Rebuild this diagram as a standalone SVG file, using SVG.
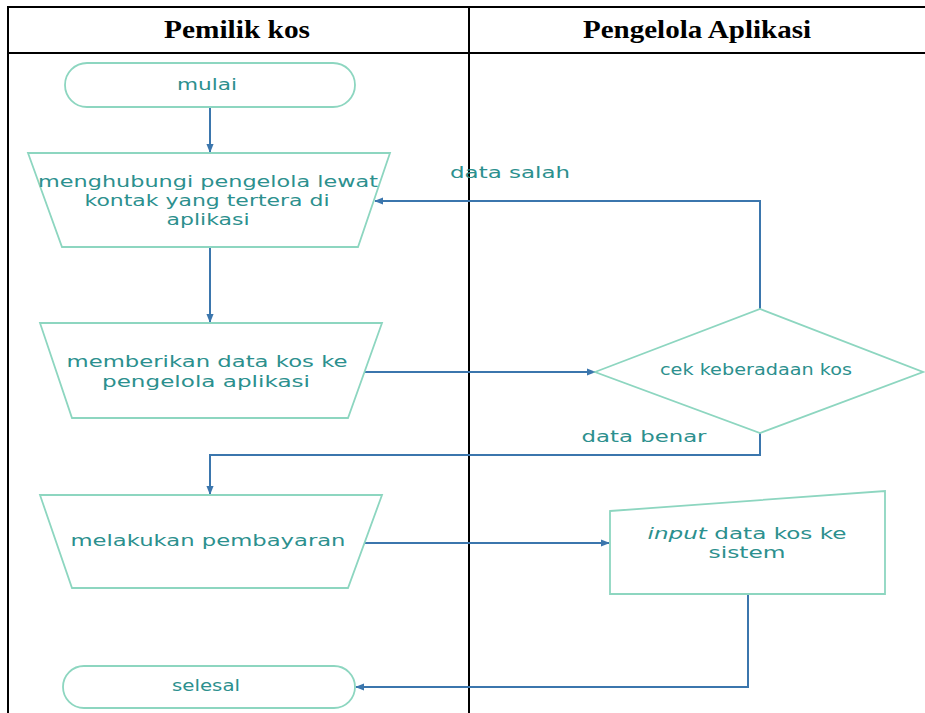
<svg xmlns="http://www.w3.org/2000/svg" width="925" height="713" viewBox="0 0 925 713">
  <defs>
    <marker id="arrow" viewBox="0 0 10 10" refX="9" refY="5" markerWidth="9" markerHeight="9" markerUnits="userSpaceOnUse" orient="auto">
      <path d="M0,1 L10,5 L0,9 Z" fill="#3b76ad"/>
    </marker>
    <style>
      .grid { stroke: #000; stroke-width: 2; fill: none; }
      .head { font-family: "Liberation Serif", "Times New Roman", serif; font-weight: bold; font-size: 25px; fill: #000; text-anchor: middle; }
      .node { fill: #fff; stroke: #8dd6c0; stroke-width: 1.8; }
      .lbl { font-family: "DejaVu Sans", "Liberation Sans", sans-serif; font-size: 15px; fill: #2c908e; text-anchor: middle; dominant-baseline: central; }
      .edge { fill: none; stroke: #3b76ad; stroke-width: 2; }
    </style>
  </defs>
  <rect width="925" height="713" fill="#fff"/>

  <!-- swimlane table -->
  <g id="table">
    <line class="grid" x1="7" y1="7" x2="925" y2="7"/>
    <line class="grid" x1="7" y1="53" x2="925" y2="53"/>
    <line class="grid" x1="8" y1="6" x2="8" y2="713"/>
    <line class="grid" x1="469" y1="6" x2="469" y2="713"/>
    <text class="head" x="237" y="38" textLength="146" lengthAdjust="spacingAndGlyphs">Pemilik kos</text>
    <text class="head" x="697" y="38" textLength="228" lengthAdjust="spacingAndGlyphs">Pengelola Aplikasi</text>
  </g>

  <!-- connectors -->
  <g id="connectors">
    <path class="edge" d="M210,107 L210,152" marker-end="url(#arrow)"/>
    <path class="edge" d="M210,247 L210,322" marker-end="url(#arrow)"/>
    <path class="edge" d="M364,372 L595,372" marker-end="url(#arrow)"/>
    <path class="edge" d="M760,309 L760,201 L375,201" marker-end="url(#arrow)"/>
    <path class="edge" d="M760,433 L760,455 L210,455 L210,494" marker-end="url(#arrow)"/>
    <path class="edge" d="M364,543 L609,543" marker-end="url(#arrow)"/>
    <path class="edge" d="M748,594 L748,687 L356,687" marker-end="url(#arrow)"/>
    <text class="lbl" x="510" y="173" textLength="120" lengthAdjust="spacingAndGlyphs">data salah</text>
    <text class="lbl" x="644" y="437" textLength="125" lengthAdjust="spacingAndGlyphs">data benar</text>
  </g>

  <g id="start">
    <rect class="node" x="65" y="63" width="290" height="44" rx="22" ry="22"/>
    <text class="lbl" x="207" y="85" textLength="60" lengthAdjust="spacingAndGlyphs">mulai</text>
  </g>

  <g id="contact">
    <polygon class="node" points="28,153 390,153 358,247 62,247"/>
    <text class="lbl" x="208" y="182" textLength="340" lengthAdjust="spacingAndGlyphs">menghubungi pengelola lewat</text>
    <text class="lbl" x="207" y="201" textLength="245" lengthAdjust="spacingAndGlyphs">kontak yang tertera di</text>
    <text class="lbl" x="208" y="220" textLength="83" lengthAdjust="spacingAndGlyphs">aplikasi</text>
  </g>

  <g id="send-data">
    <polygon class="node" points="40,323 382,323 348,418 72,418"/>
    <text class="lbl" x="207" y="362" textLength="281" lengthAdjust="spacingAndGlyphs">memberikan data kos ke</text>
    <text class="lbl" x="206" y="382" textLength="208" lengthAdjust="spacingAndGlyphs">pengelola aplikasi</text>
  </g>

  <g id="check">
    <polygon class="node" points="595,372 760,309 923,372 760,433"/>
    <text class="lbl" x="756" y="370" textLength="192" lengthAdjust="spacingAndGlyphs">cek keberadaan kos</text>
  </g>

  <g id="payment">
    <polygon class="node" points="40,495 382,495 348,588 72,588"/>
    <text class="lbl" x="208" y="541" textLength="275" lengthAdjust="spacingAndGlyphs">melakukan pembayaran</text>
  </g>

  <g id="input">
    <polygon class="node" points="610,511 885,491 885,594 610,594"/>
    <text class="lbl" x="747" y="534" textLength="199" lengthAdjust="spacingAndGlyphs"><tspan font-style="italic">input</tspan> data kos ke</text>
    <text class="lbl" x="747" y="553" textLength="77" lengthAdjust="spacingAndGlyphs">sistem</text>
  </g>

  <g id="end">
    <rect class="node" x="63" y="666" width="292" height="42" rx="21" ry="21"/>
    <text class="lbl" x="206" y="686" textLength="68" lengthAdjust="spacingAndGlyphs">selesal</text>
  </g>
</svg>
